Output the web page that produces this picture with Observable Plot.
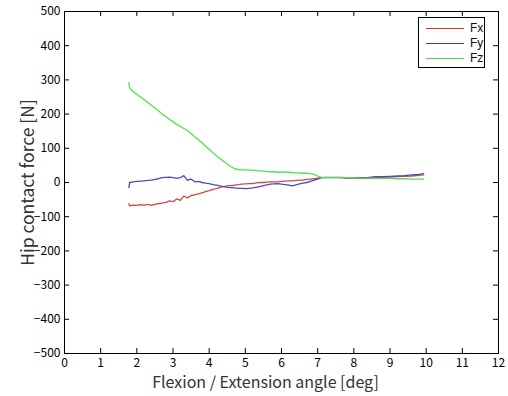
<!DOCTYPE html>
<html>
<head>
<meta charset="utf-8">
<script src="https://cdn.jsdelivr.net/npm/d3@7"></script>
<script src="https://cdn.jsdelivr.net/npm/@observablehq/plot@0.6"></script>
<style>
  html, body { margin: 0; padding: 0; background: #fff; }
  #wrap { position: relative; width: 508px; height: 396px; }
  #legend { position: absolute; left: 418px; top: 17px; width: 65px; height: 49px;
    border: 1px solid #000; background: #fff; font: 12px "Liberation Sans", Arial, sans-serif; color: #111; }
  #legend .row { position: absolute; left: 0; height: 15px; width: 65px; }
  #legend .sw { position: absolute; left: 7px; top: 7px; width: 38px; height: 0; border-top: 1px solid; }
  #legend .lb { position: absolute; left: 51px; top: 0; line-height: 15px; }
</style>
</head>
<body>
<div id="wrap"><div id="chart"></div><div id="legend"></div></div>
<script>
// Flexion / Extension angle [deg]
const angle = [1.78, 1.8, 1.9, 2.0, 2.1, 2.2, 2.3, 2.4, 2.5, 2.6, 2.7, 2.8, 2.9, 3.0, 3.1, 3.2, 3.3, 3.4, 3.5, 3.6, 3.7, 3.8, 3.9, 4.0, 4.1, 4.2, 4.3, 4.4, 4.5, 4.6, 4.7, 4.8, 4.9, 5.0, 5.1, 5.2, 5.3, 5.4, 5.5, 5.6, 5.7, 5.8, 5.9, 6.0, 6.1, 6.2, 6.3, 6.4, 6.5, 6.6, 6.7, 6.8, 6.9, 7.0, 7.1, 7.2, 7.4, 7.6, 7.8, 8.0, 8.2, 8.4, 8.6, 8.8, 9.0, 9.2, 9.4, 9.6, 9.8, 9.93];
const Fx = [-62, -68, -66, -67, -65, -66, -64, -67, -64, -62, -60, -58, -54, -56, -48, -52, -40, -45, -38, -36, -33, -30, -27, -24, -20, -18, -14, -12, -10, -9, -8, -6, -5, -4, -3, -3, -1, 0, 0, 1, 2, 2, 2, 3, 4, 5, 5, 6, 7, 7, 9, 10, 11, 13, 14, 14, 14, 14, 13, 13, 12, 12, 14, 15, 16, 17, 18, 19, 21, 22];
const Fy = [-15, 0, 2, 3, 4, 5, 6, 7, 9, 11, 14, 15, 16, 14, 12, 14, 20, 6, 10, 2, 3, 0, -2, -3, -6, -8, -10, -12, -14, -15, -16, -17, -17, -18, -17, -16, -14, -12, -9, -7, -5, -4, -3, -5, -6, -8, -10, -7, -4, -2, 0, 3, 7, 10, 14, 15, 15, 15, 14, 14, 14, 15, 17, 17, 18, 19, 20, 22, 24, 26];
const Fz = [292, 276, 266, 258, 250, 242, 234, 226, 218, 210, 200, 193, 185, 178, 170, 164, 158, 152, 143, 134, 126, 116, 106, 97, 87, 78, 70, 62, 54, 46, 41, 38, 37, 37, 36, 36, 35, 34, 33, 32, 31, 32, 30, 30, 31, 30, 29, 28, 28, 27, 27, 26, 24, 19, 15, 14, 14, 14, 14, 14, 13, 13, 12, 12, 12, 11, 11, 10, 10, 10];
const seriesNames = ["Fx", "Fy", "Fz"];
const seriesValues = [Fx, Fy, Fz];
const seriesColors = ["#d04848", "#4a4ac4", "#50e050"];
const legendColors = ["#c03a3a", "#3a3ab8", "#48d848"];
const xTicks = d3.range(0, 13, 1);
const yTicks = d3.range(-500, 501, 100);

const rows = [];
seriesNames.forEach((name, s) => {
  angle.forEach((a, i) => rows.push({series: name, angle: a, force: seriesValues[s][i]}));
});

const W = 508, H = 396;
const mL = 64, mR = 10, mT = 11, mB = 43;
const innerW = W - mL - mR, innerH = H - mT - mB;
const tickLen = 5;
const font = '"Noto Sans CJK JP", "DejaVu Sans", sans-serif';

const chart = Plot.plot({
  width: W, height: H,
  marginLeft: mL, marginRight: mR, marginTop: mT, marginBottom: mB,
  style: {fontFamily: font, fontSize: "12px", color: "#000", background: "#fff"},
  x: {domain: [0, 12], ticks: xTicks},
  y: {domain: [-500, 500], ticks: yTicks},
  color: {domain: seriesNames, range: seriesColors},
  marks: [
    Plot.gridX(xTicks, {stroke: "#000", strokeOpacity: 1, insetTop: innerH - tickLen}),
    Plot.gridX(xTicks, {stroke: "#000", strokeOpacity: 1, insetBottom: innerH - tickLen}),
    Plot.gridY(yTicks, {stroke: "#000", strokeOpacity: 1, insetRight: innerW - tickLen}),
    Plot.gridY(yTicks, {stroke: "#000", strokeOpacity: 1, insetLeft: innerW - tickLen}),
    Plot.axisX(xTicks, {tickSize: 0, tickPadding: 5, fontSize: 12,
      label: "Flexion / Extension angle [deg]", labelAnchor: "center", labelOffset: 34, labelArrow: "none"}),
    Plot.axisY(yTicks, {tickSize: 0, tickPadding: 4, fontSize: 12,
      label: "Hip contact force [N]", labelAnchor: "center", labelOffset: 43, labelArrow: "none"}),
    Plot.line(rows, {x: "angle", y: "force", z: "series", stroke: "series", strokeWidth: 1.3}),
    Plot.frame({stroke: "#000"})
  ]
});
document.getElementById("chart").appendChild(chart);
d3.select(chart).selectAll("[aria-label='x-axis label'] text")
  .style("font-size", "16px").attr("fill", "#333").attr("dx", -16);
d3.select(chart).selectAll("[aria-label='y-axis label'] text")
  .style("font-size", "17.5px").attr("fill", "#333");

const legend = document.getElementById("legend");
seriesNames.forEach((name, i) => {
  const row = document.createElement("div");
  row.className = "row";
  row.style.top = (3 + i * 15) + "px";
  row.innerHTML = `<div class="sw" style="border-color:${legendColors[i]}"></div><div class="lb">${name}</div>`;
  legend.appendChild(row);
});
</script>
</body>
</html>
